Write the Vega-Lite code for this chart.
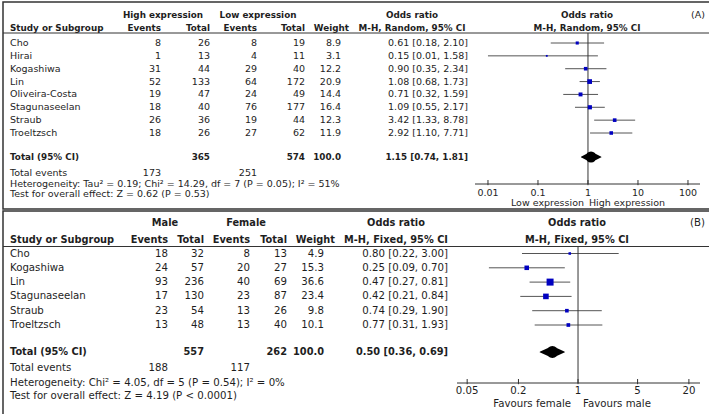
{
  "$schema": "https://vega.github.io/schema/vega-lite/v6.json",
  "padding": {"left": 1, "top": 1, "right": 1, "bottom": 1},
  "spacing": 0,
  "config": {"font": "DejaVu Sans", "view": {"stroke": "#333", "strokeWidth": 1.5}, "text": {"color": "#1e1e1e"}},
  "datasets": {
    "cellsA": [
      {"r": -1, "c": 3, "t": "High expression"},
      {"r": -1, "c": 6, "t": "Low expression"},
      {"r": -1, "c": 10, "t": "Odds ratio"},
      {"r": -1, "c": 12, "t": "Odds ratio"},
      {"r": -1, "c": 13, "t": "(A)"},
      {"r": 0, "c": 1, "t": "Study or Subgroup"},
      {"r": 0, "c": 2, "t": "Events"},
      {"r": 0, "c": 4, "t": "Total"},
      {"r": 0, "c": 5, "t": "Events"},
      {"r": 0, "c": 7, "t": "Total"},
      {"r": 0, "c": 9, "t": "Weight"},
      {"r": 0, "c": 10, "t": "M-H, Random, 95% CI"},
      {"r": 0, "c": 12, "t": "M-H, Random, 95% CI"},
      {"r": 1, "c": 1, "t": "Cho"}, {"r": 1, "c": 2, "t": "8"}, {"r": 1, "c": 4, "t": "26"}, {"r": 1, "c": 5, "t": "8"}, {"r": 1, "c": 7, "t": "19"}, {"r": 1, "c": 8, "t": "8.9"}, {"r": 1, "c": 11, "t": "0.61 [0.18, 2.10]"},
      {"r": 2, "c": 1, "t": "Hirai"}, {"r": 2, "c": 2, "t": "1"}, {"r": 2, "c": 4, "t": "13"}, {"r": 2, "c": 5, "t": "4"}, {"r": 2, "c": 7, "t": "11"}, {"r": 2, "c": 8, "t": "3.1"}, {"r": 2, "c": 11, "t": "0.15 [0.01, 1.58]"},
      {"r": 3, "c": 1, "t": "Kogashiwa"}, {"r": 3, "c": 2, "t": "31"}, {"r": 3, "c": 4, "t": "44"}, {"r": 3, "c": 5, "t": "29"}, {"r": 3, "c": 7, "t": "40"}, {"r": 3, "c": 8, "t": "12.2"}, {"r": 3, "c": 11, "t": "0.90 [0.35, 2.34]"},
      {"r": 4, "c": 1, "t": "Lin"}, {"r": 4, "c": 2, "t": "52"}, {"r": 4, "c": 4, "t": "133"}, {"r": 4, "c": 5, "t": "64"}, {"r": 4, "c": 7, "t": "172"}, {"r": 4, "c": 8, "t": "20.9"}, {"r": 4, "c": 11, "t": "1.08 [0.68, 1.73]"},
      {"r": 5, "c": 1, "t": "Oliveira-Costa"}, {"r": 5, "c": 2, "t": "19"}, {"r": 5, "c": 4, "t": "47"}, {"r": 5, "c": 5, "t": "24"}, {"r": 5, "c": 7, "t": "49"}, {"r": 5, "c": 8, "t": "14.4"}, {"r": 5, "c": 11, "t": "0.71 [0.32, 1.59]"},
      {"r": 6, "c": 1, "t": "Stagunaseelan"}, {"r": 6, "c": 2, "t": "18"}, {"r": 6, "c": 4, "t": "40"}, {"r": 6, "c": 5, "t": "76"}, {"r": 6, "c": 7, "t": "177"}, {"r": 6, "c": 8, "t": "16.4"}, {"r": 6, "c": 11, "t": "1.09 [0.55, 2.17]"},
      {"r": 7, "c": 1, "t": "Straub"}, {"r": 7, "c": 2, "t": "26"}, {"r": 7, "c": 4, "t": "36"}, {"r": 7, "c": 5, "t": "19"}, {"r": 7, "c": 7, "t": "44"}, {"r": 7, "c": 8, "t": "12.3"}, {"r": 7, "c": 11, "t": "3.42 [1.33, 8.78]"},
      {"r": 8, "c": 1, "t": "Troeltzsch"}, {"r": 8, "c": 2, "t": "18"}, {"r": 8, "c": 4, "t": "26"}, {"r": 8, "c": 5, "t": "27"}, {"r": 8, "c": 7, "t": "62"}, {"r": 8, "c": 8, "t": "11.9"}, {"r": 8, "c": 11, "t": "2.92 [1.10, 7.71]"},
      {"r": 10, "c": 1, "t": "Total (95% CI)"}, {"r": 10, "c": 4, "t": "365"}, {"r": 10, "c": 7, "t": "574"}, {"r": 10, "c": 8, "t": "100.0"}, {"r": 10, "c": 11, "t": "1.15 [0.74, 1.81]"},
      {"r": 11, "c": 1, "t": "Total events"}, {"r": 11, "c": 2, "t": "173"}, {"r": 11, "c": 5, "t": "251"},
      {"r": 12, "c": 1, "t": "Heterogeneity: Tau² = 0.19; Chi² = 14.29, df = 7 (P = 0.05); I² = 51%"},
      {"r": 13, "c": 1, "t": "Test for overall effect: Z = 0.62 (P = 0.53)"}
    ],
    "forA": [
      {"r": 1, "or": 0.61, "lo": 0.18, "hi": 2.10, "w": 8.9},
      {"r": 2, "or": 0.15, "lo": 0.01, "hi": 1.58, "w": 3.1},
      {"r": 3, "or": 0.90, "lo": 0.35, "hi": 2.34, "w": 12.2},
      {"r": 4, "or": 1.08, "lo": 0.68, "hi": 1.73, "w": 20.9},
      {"r": 5, "or": 0.71, "lo": 0.32, "hi": 1.59, "w": 14.4},
      {"r": 6, "or": 1.09, "lo": 0.55, "hi": 2.17, "w": 16.4},
      {"r": 7, "or": 3.42, "lo": 1.33, "hi": 8.78, "w": 12.3},
      {"r": 8, "or": 2.92, "lo": 1.10, "hi": 7.71, "w": 11.9}
    ],
    "diaA": [
      {"r": 10, "v": 0.74, "p": "lo"}, {"r": 10, "v": 1.15, "p": "est"}, {"r": 10, "v": 1.81, "p": "hi"}
    ],
    "ticksA": [
      {"v": 0.01, "t": "0.01", "r": 12}, {"v": 0.1, "t": "0.1", "r": 12}, {"v": 1, "t": "1", "r": 12}, {"v": 10, "t": "10", "r": 12}, {"v": 100, "t": "100", "r": 12}
    ],
    "cellsB": [
      {"r": -1, "c": 3, "t": "Male"},
      {"r": -1, "c": 6, "t": "Female"},
      {"r": -1, "c": 10, "t": "Odds ratio"},
      {"r": -1, "c": 12, "t": "Odds ratio"},
      {"r": -1, "c": 13, "t": "(B)"},
      {"r": 0, "c": 1, "t": "Study or Subgroup"},
      {"r": 0, "c": 2, "t": "Events"},
      {"r": 0, "c": 4, "t": "Total"},
      {"r": 0, "c": 5, "t": "Events"},
      {"r": 0, "c": 7, "t": "Total"},
      {"r": 0, "c": 9, "t": "Weight"},
      {"r": 0, "c": 10, "t": "M-H, Fixed, 95% CI"},
      {"r": 0, "c": 12, "t": "M-H, Fixed, 95% CI"},
      {"r": 1, "c": 1, "t": "Cho"}, {"r": 1, "c": 2, "t": "18"}, {"r": 1, "c": 4, "t": "32"}, {"r": 1, "c": 5, "t": "8"}, {"r": 1, "c": 7, "t": "13"}, {"r": 1, "c": 8, "t": "4.9"}, {"r": 1, "c": 11, "t": "0.80 [0.22, 3.00]"},
      {"r": 2, "c": 1, "t": "Kogashiwa"}, {"r": 2, "c": 2, "t": "24"}, {"r": 2, "c": 4, "t": "57"}, {"r": 2, "c": 5, "t": "20"}, {"r": 2, "c": 7, "t": "27"}, {"r": 2, "c": 8, "t": "15.3"}, {"r": 2, "c": 11, "t": "0.25 [0.09, 0.70]"},
      {"r": 3, "c": 1, "t": "Lin"}, {"r": 3, "c": 2, "t": "93"}, {"r": 3, "c": 4, "t": "236"}, {"r": 3, "c": 5, "t": "40"}, {"r": 3, "c": 7, "t": "69"}, {"r": 3, "c": 8, "t": "36.6"}, {"r": 3, "c": 11, "t": "0.47 [0.27, 0.81]"},
      {"r": 4, "c": 1, "t": "Stagunaseelan"}, {"r": 4, "c": 2, "t": "17"}, {"r": 4, "c": 4, "t": "130"}, {"r": 4, "c": 5, "t": "23"}, {"r": 4, "c": 7, "t": "87"}, {"r": 4, "c": 8, "t": "23.4"}, {"r": 4, "c": 11, "t": "0.42 [0.21, 0.84]"},
      {"r": 5, "c": 1, "t": "Straub"}, {"r": 5, "c": 2, "t": "23"}, {"r": 5, "c": 4, "t": "54"}, {"r": 5, "c": 5, "t": "13"}, {"r": 5, "c": 7, "t": "26"}, {"r": 5, "c": 8, "t": "9.8"}, {"r": 5, "c": 11, "t": "0.74 [0.29, 1.90]"},
      {"r": 6, "c": 1, "t": "Troeltzsch"}, {"r": 6, "c": 2, "t": "13"}, {"r": 6, "c": 4, "t": "48"}, {"r": 6, "c": 5, "t": "13"}, {"r": 6, "c": 7, "t": "40"}, {"r": 6, "c": 8, "t": "10.1"}, {"r": 6, "c": 11, "t": "0.77 [0.31, 1.93]"},
      {"r": 8, "c": 1, "t": "Total (95% CI)"}, {"r": 8, "c": 4, "t": "557"}, {"r": 8, "c": 7, "t": "262"}, {"r": 8, "c": 8, "t": "100.0"}, {"r": 8, "c": 11, "t": "0.50 [0.36, 0.69]"},
      {"r": 9, "c": 1, "t": "Total events"}, {"r": 9, "c": 2, "t": "188"}, {"r": 9, "c": 5, "t": "117"},
      {"r": 10, "c": 1, "t": "Heterogeneity: Chi² = 4.05, df = 5 (P = 0.54); I² = 0%"},
      {"r": 11, "c": 1, "t": "Test for overall effect: Z = 4.19 (P < 0.0001)"}
    ],
    "forB": [
      {"r": 1, "or": 0.80, "lo": 0.22, "hi": 3.00, "w": 4.9},
      {"r": 2, "or": 0.25, "lo": 0.09, "hi": 0.70, "w": 15.3},
      {"r": 3, "or": 0.47, "lo": 0.27, "hi": 0.81, "w": 36.6},
      {"r": 4, "or": 0.42, "lo": 0.21, "hi": 0.84, "w": 23.4},
      {"r": 5, "or": 0.74, "lo": 0.29, "hi": 1.90, "w": 9.8},
      {"r": 6, "or": 0.77, "lo": 0.31, "hi": 1.93, "w": 10.1}
    ],
    "diaB": [
      {"r": 8, "v": 0.36, "p": "lo"}, {"r": 8, "v": 0.50, "p": "est"}, {"r": 8, "v": 0.69, "p": "hi"}
    ],
    "ticksB": [
      {"v": 0.05, "t": "0.05", "r": 10}, {"v": 0.2, "t": "0.2", "r": 10}, {"v": 1, "t": "1", "r": 10}, {"v": 5, "t": "5", "r": 10}, {"v": 20, "t": "20", "r": 10}
    ]
  },
  "vconcat": [
    {
      "width": 707,
      "height": 207,
      "resolve": {"scale": {"x": "independent", "size": "independent"}},
      "layer": [
        {
          "data": {"name": "cellsA"},
          "encoding": {
            "x": {"field": "c", "type": "quantitative", "axis": null, "scale": {"domain": [1, 2, 3, 4, 5, 6, 7, 8, 9, 10, 11, 12, 13], "range": [7, 158, 160, 207, 254, 255, 302, 338, 346, 409, 465, 584, 702], "nice": false, "zero": false}},
            "y": {"field": "r", "type": "quantitative", "axis": null, "scale": {"domain": [-1, 0, 1, 8, 10, 11, 12, 13], "range": [13, 26, 41, 131, 155, 170.5, 182, 192], "nice": false, "zero": false}},
            "text": {"field": "t"}
          },
          "layer": [
            {"transform": [{"filter": "datum.c==1 && datum.r>=1 && datum.r!=10"}], "mark": {"type": "text", "align": "left", "baseline": "middle", "fontSize": 9.5}},
            {"transform": [{"filter": "datum.c==1 && (datum.r<=0 || datum.r==10)"}], "mark": {"type": "text", "align": "left", "baseline": "middle", "fontSize": 8.8, "fontWeight": "bold"}},
            {"transform": [{"filter": "indexof([3,6,10,12], datum.c) >= 0"}], "mark": {"type": "text", "align": "center", "baseline": "middle", "fontSize": 8.8, "fontWeight": "bold"}},
            {"transform": [{"filter": "indexof([2,4,5,7,8,9,11], datum.c) >= 0 && (datum.r==0 || datum.r==10)"}], "mark": {"type": "text", "align": "right", "baseline": "middle", "fontSize": 8.8, "fontWeight": "bold"}},
            {"transform": [{"filter": "(indexof([2,4,5,7,8,9,11], datum.c) >= 0 && datum.r>=1 && datum.r!=10) || datum.c==13"}], "mark": {"type": "text", "align": "right", "baseline": "middle", "fontSize": 9.5}}
          ]
        },
        {
          "data": {"values": [{"r": 0}]},
          "mark": {"type": "rule", "color": "#333", "strokeWidth": 1, "yOffset": 5},
          "encoding": {
            "y": {"field": "r", "type": "quantitative", "axis": null, "scale": {"domain": [-1, 0, 1, 8, 10, 11, 12, 13], "range": [13, 26, 41, 131, 155, 170.5, 182, 192], "nice": false, "zero": false}}
          }
        },
        {
          "data": {"name": "forA"},
          "mark": {"type": "rule", "color": "#555", "strokeWidth": 1},
          "encoding": {
            "x": {"field": "lo", "type": "quantitative", "axis": null, "scale": {"type": "log", "domain": [0.0055, 174], "range": [472, 697], "nice": false}},
            "x2": {"field": "hi"},
            "y": {"field": "r", "type": "quantitative", "axis": null, "scale": {"domain": [-1, 0, 1, 8, 10, 11, 12, 13], "range": [13, 26, 41, 131, 155, 170.5, 182, 192], "nice": false, "zero": false}}
          }
        },
        {
          "data": {"values": [{"v": 1, "top": 0, "bottom": 12}]},
          "mark": {"type": "rule", "color": "#333", "strokeWidth": 1, "yOffset": 5},
          "encoding": {
            "x": {"field": "v", "type": "quantitative", "axis": null, "scale": {"type": "log", "domain": [0.0055, 174], "range": [472, 697], "nice": false}},
            "y": {"field": "top", "type": "quantitative", "axis": null, "scale": {"domain": [-1, 0, 1, 8, 10, 11, 12, 13], "range": [13, 26, 41, 131, 155, 170.5, 182, 192], "nice": false, "zero": false}},
            "y2": {"field": "bottom"}
          }
        },
        {
          "data": {"name": "forA"},
          "mark": {"type": "point", "shape": "square", "filled": true, "color": "#0000c0", "opacity": 1},
          "encoding": {
            "x": {"field": "or", "type": "quantitative", "axis": null, "scale": {"type": "log", "domain": [0.0055, 174], "range": [472, 697], "nice": false}},
            "y": {"field": "r", "type": "quantitative", "axis": null, "scale": {"domain": [-1, 0, 1, 8, 10, 11, 12, 13], "range": [13, 26, 41, 131, 155, 170.5, 182, 192], "nice": false, "zero": false}},
            "size": {"field": "w", "type": "quantitative", "legend": null, "scale": {"domain": [0, 100], "range": [0, 107]}}
          }
        },
        {
          "data": {"name": "diaA"},
          "mark": {"type": "trail", "color": "black"},
          "encoding": {
            "x": {"field": "v", "type": "quantitative", "axis": null, "scale": {"type": "log", "domain": [0.0055, 174], "range": [472, 697], "nice": false}},
            "y": {"field": "r", "type": "quantitative", "axis": null, "scale": {"domain": [-1, 0, 1, 8, 10, 11, 12, 13], "range": [13, 26, 41, 131, 155, 170.5, 182, 192], "nice": false, "zero": false}},
            "size": {"field": "p", "type": "ordinal", "legend": null, "scale": {"type": "ordinal", "domain": ["lo", "est", "hi"], "range": [0, 11, 0]}},
            "order": {"field": "v", "type": "quantitative"}
          }
        },
        {
          "data": {"values": [{"a": 0.0055, "b": 174, "r": 12}]},
          "mark": {"type": "rule", "color": "#333", "strokeWidth": 1},
          "encoding": {
            "x": {"field": "a", "type": "quantitative", "axis": null, "scale": {"type": "log", "domain": [0.0055, 174], "range": [472, 697], "nice": false}},
            "x2": {"field": "b"},
            "y": {"field": "r", "type": "quantitative", "axis": null, "scale": {"domain": [-1, 0, 1, 8, 10, 11, 12, 13], "range": [13, 26, 41, 131, 155, 170.5, 182, 192], "nice": false, "zero": false}}
          }
        },
        {
          "data": {"name": "ticksA"},
          "mark": {"type": "point", "shape": "M0,-1L0,0.3", "filled": false, "stroke": "#333", "strokeWidth": 1, "size": 64, "opacity": 1},
          "encoding": {
            "x": {"field": "v", "type": "quantitative", "axis": null, "scale": {"type": "log", "domain": [0.0055, 174], "range": [472, 697], "nice": false}},
            "y": {"field": "r", "type": "quantitative", "axis": null, "scale": {"domain": [-1, 0, 1, 8, 10, 11, 12, 13], "range": [13, 26, 41, 131, 155, 170.5, 182, 192], "nice": false, "zero": false}}
          }
        },
        {
          "data": {"name": "ticksA"},
          "mark": {"type": "text", "baseline": "middle", "align": "center", "dy": 9, "fontSize": 9.5},
          "encoding": {
            "x": {"field": "v", "type": "quantitative", "axis": null, "scale": {"type": "log", "domain": [0.0055, 174], "range": [472, 697], "nice": false}},
            "y": {"field": "r", "type": "quantitative", "axis": null, "scale": {"domain": [-1, 0, 1, 8, 10, 11, 12, 13], "range": [13, 26, 41, 131, 155, 170.5, 182, 192], "nice": false, "zero": false}},
            "text": {"field": "t"}
          }
        },
        {
          "data": {"values": [{"t": "Low expression", "v": 1, "r": 12}]},
          "mark": {"type": "text", "baseline": "middle", "align": "right", "dx": -4, "dy": 18.5, "fontSize": 9.5},
          "encoding": {
            "x": {"field": "v", "type": "quantitative", "axis": null, "scale": {"type": "log", "domain": [0.0055, 174], "range": [472, 697], "nice": false}},
            "y": {"field": "r", "type": "quantitative", "axis": null, "scale": {"domain": [-1, 0, 1, 8, 10, 11, 12, 13], "range": [13, 26, 41, 131, 155, 170.5, 182, 192], "nice": false, "zero": false}},
            "text": {"field": "t"}
          }
        },
        {
          "data": {"values": [{"t": "High expression", "v": 1, "r": 12}]},
          "mark": {"type": "text", "baseline": "middle", "align": "left", "dx": 1, "dy": 18.5, "fontSize": 9.5},
          "encoding": {
            "x": {"field": "v", "type": "quantitative", "axis": null, "scale": {"type": "log", "domain": [0.0055, 174], "range": [472, 697], "nice": false}},
            "y": {"field": "r", "type": "quantitative", "axis": null, "scale": {"domain": [-1, 0, 1, 8, 10, 11, 12, 13], "range": [13, 26, 41, 131, 155, 170.5, 182, 192], "nice": false, "zero": false}},
            "text": {"field": "t"}
          }
        }
      ]
    },
    {
      "width": 707,
      "height": 204,
      "resolve": {"scale": {"x": "independent", "size": "independent"}},
      "layer": [
        {
          "data": {"name": "cellsB"},
          "encoding": {
            "x": {"field": "c", "type": "quantitative", "axis": null, "scale": {"domain": [1, 2, 3, 4, 5, 6, 7, 8, 9, 10, 11, 12, 13], "range": [7, 165, 162, 201, 247, 243, 284, 321, 332, 393, 445, 574, 702], "nice": false, "zero": false}},
            "y": {"field": "r", "type": "quantitative", "axis": null, "scale": {"domain": [-1, 0, 1, 6, 8, 9, 10, 11], "range": [11.5, 28.5, 42.5, 114, 141, 157, 172, 185], "nice": false, "zero": false}},
            "text": {"field": "t"}
          },
          "layer": [
            {"transform": [{"filter": "datum.c==1 && datum.r>=1 && datum.r!=8"}], "mark": {"type": "text", "align": "left", "baseline": "middle", "fontSize": 10.2}},
            {"transform": [{"filter": "datum.c==1 && (datum.r<=0 || datum.r==8)"}], "mark": {"type": "text", "align": "left", "baseline": "middle", "fontSize": 9.8, "fontWeight": "bold"}},
            {"transform": [{"filter": "indexof([3,6,10,12], datum.c) >= 0"}], "mark": {"type": "text", "align": "center", "baseline": "middle", "fontSize": 9.8, "fontWeight": "bold"}},
            {"transform": [{"filter": "indexof([2,4,5,7,8,9,11], datum.c) >= 0 && (datum.r==0 || datum.r==8)"}], "mark": {"type": "text", "align": "right", "baseline": "middle", "fontSize": 9.8, "fontWeight": "bold"}},
            {"transform": [{"filter": "(indexof([2,4,5,7,8,9,11], datum.c) >= 0 && datum.r>=1 && datum.r!=8) || datum.c==13"}], "mark": {"type": "text", "align": "right", "baseline": "middle", "fontSize": 10.2}}
          ]
        },
        {
          "data": {"values": [{"r": 0}]},
          "mark": {"type": "rule", "color": "#333", "strokeWidth": 1, "yOffset": 7},
          "encoding": {
            "y": {"field": "r", "type": "quantitative", "axis": null, "scale": {"domain": [-1, 0, 1, 6, 8, 9, 10, 11], "range": [11.5, 28.5, 42.5, 114, 141, 157, 172, 185], "nice": false, "zero": false}}
          }
        },
        {
          "data": {"name": "forB"},
          "mark": {"type": "rule", "color": "#555", "strokeWidth": 1},
          "encoding": {
            "x": {"field": "lo", "type": "quantitative", "axis": null, "scale": {"type": "log", "domain": [0.038, 27], "range": [454, 697], "nice": false}},
            "x2": {"field": "hi"},
            "y": {"field": "r", "type": "quantitative", "axis": null, "scale": {"domain": [-1, 0, 1, 6, 8, 9, 10, 11], "range": [11.5, 28.5, 42.5, 114, 141, 157, 172, 185], "nice": false, "zero": false}}
          }
        },
        {
          "data": {"values": [{"v": 1, "top": 0, "bottom": 10}]},
          "mark": {"type": "rule", "color": "#333", "strokeWidth": 1, "yOffset": 7},
          "encoding": {
            "x": {"field": "v", "type": "quantitative", "axis": null, "scale": {"type": "log", "domain": [0.038, 27], "range": [454, 697], "nice": false}},
            "y": {"field": "top", "type": "quantitative", "axis": null, "scale": {"domain": [-1, 0, 1, 6, 8, 9, 10, 11], "range": [11.5, 28.5, 42.5, 114, 141, 157, 172, 185], "nice": false, "zero": false}},
            "y2": {"field": "bottom"}
          }
        },
        {
          "data": {"name": "forB"},
          "mark": {"type": "point", "shape": "square", "filled": true, "color": "#0000c0", "opacity": 1},
          "encoding": {
            "x": {"field": "or", "type": "quantitative", "axis": null, "scale": {"type": "log", "domain": [0.038, 27], "range": [454, 697], "nice": false}},
            "y": {"field": "r", "type": "quantitative", "axis": null, "scale": {"domain": [-1, 0, 1, 6, 8, 9, 10, 11], "range": [11.5, 28.5, 42.5, 114, 141, 157, 172, 185], "nice": false, "zero": false}},
            "size": {"field": "w", "type": "quantitative", "legend": null, "scale": {"domain": [0, 100], "range": [0, 134]}}
          }
        },
        {
          "data": {"name": "diaB"},
          "mark": {"type": "trail", "color": "black"},
          "encoding": {
            "x": {"field": "v", "type": "quantitative", "axis": null, "scale": {"type": "log", "domain": [0.038, 27], "range": [454, 697], "nice": false}},
            "y": {"field": "r", "type": "quantitative", "axis": null, "scale": {"domain": [-1, 0, 1, 6, 8, 9, 10, 11], "range": [11.5, 28.5, 42.5, 114, 141, 157, 172, 185], "nice": false, "zero": false}},
            "size": {"field": "p", "type": "ordinal", "legend": null, "scale": {"type": "ordinal", "domain": ["lo", "est", "hi"], "range": [0, 12, 0]}},
            "order": {"field": "v", "type": "quantitative"}
          }
        },
        {
          "data": {"values": [{"a": 0.038, "b": 27, "r": 10}]},
          "mark": {"type": "rule", "color": "#333", "strokeWidth": 1},
          "encoding": {
            "x": {"field": "a", "type": "quantitative", "axis": null, "scale": {"type": "log", "domain": [0.038, 27], "range": [454, 697], "nice": false}},
            "x2": {"field": "b"},
            "y": {"field": "r", "type": "quantitative", "axis": null, "scale": {"domain": [-1, 0, 1, 6, 8, 9, 10, 11], "range": [11.5, 28.5, 42.5, 114, 141, 157, 172, 185], "nice": false, "zero": false}}
          }
        },
        {
          "data": {"name": "ticksB"},
          "mark": {"type": "point", "shape": "M0,-1L0,0.3", "filled": false, "stroke": "#333", "strokeWidth": 1, "size": 64, "opacity": 1},
          "encoding": {
            "x": {"field": "v", "type": "quantitative", "axis": null, "scale": {"type": "log", "domain": [0.038, 27], "range": [454, 697], "nice": false}},
            "y": {"field": "r", "type": "quantitative", "axis": null, "scale": {"domain": [-1, 0, 1, 6, 8, 9, 10, 11], "range": [11.5, 28.5, 42.5, 114, 141, 157, 172, 185], "nice": false, "zero": false}}
          }
        },
        {
          "data": {"name": "ticksB"},
          "mark": {"type": "text", "baseline": "middle", "align": "center", "dy": 7.5, "fontSize": 10.2},
          "encoding": {
            "x": {"field": "v", "type": "quantitative", "axis": null, "scale": {"type": "log", "domain": [0.038, 27], "range": [454, 697], "nice": false}},
            "y": {"field": "r", "type": "quantitative", "axis": null, "scale": {"domain": [-1, 0, 1, 6, 8, 9, 10, 11], "range": [11.5, 28.5, 42.5, 114, 141, 157, 172, 185], "nice": false, "zero": false}},
            "text": {"field": "t"}
          }
        },
        {
          "data": {"values": [{"t": "Favours female", "v": 1, "r": 10}]},
          "mark": {"type": "text", "baseline": "middle", "align": "right", "dx": -7, "dy": 20.5, "fontSize": 10.2},
          "encoding": {
            "x": {"field": "v", "type": "quantitative", "axis": null, "scale": {"type": "log", "domain": [0.038, 27], "range": [454, 697], "nice": false}},
            "y": {"field": "r", "type": "quantitative", "axis": null, "scale": {"domain": [-1, 0, 1, 6, 8, 9, 10, 11], "range": [11.5, 28.5, 42.5, 114, 141, 157, 172, 185], "nice": false, "zero": false}},
            "text": {"field": "t"}
          }
        },
        {
          "data": {"values": [{"t": "Favours male", "v": 1, "r": 10}]},
          "mark": {"type": "text", "baseline": "middle", "align": "left", "dx": 5, "dy": 20.5, "fontSize": 10.2},
          "encoding": {
            "x": {"field": "v", "type": "quantitative", "axis": null, "scale": {"type": "log", "domain": [0.038, 27], "range": [454, 697], "nice": false}},
            "y": {"field": "r", "type": "quantitative", "axis": null, "scale": {"domain": [-1, 0, 1, 6, 8, 9, 10, 11], "range": [11.5, 28.5, 42.5, 114, 141, 157, 172, 185], "nice": false, "zero": false}},
            "text": {"field": "t"}
          }
        }
      ]
    }
  ]
}
